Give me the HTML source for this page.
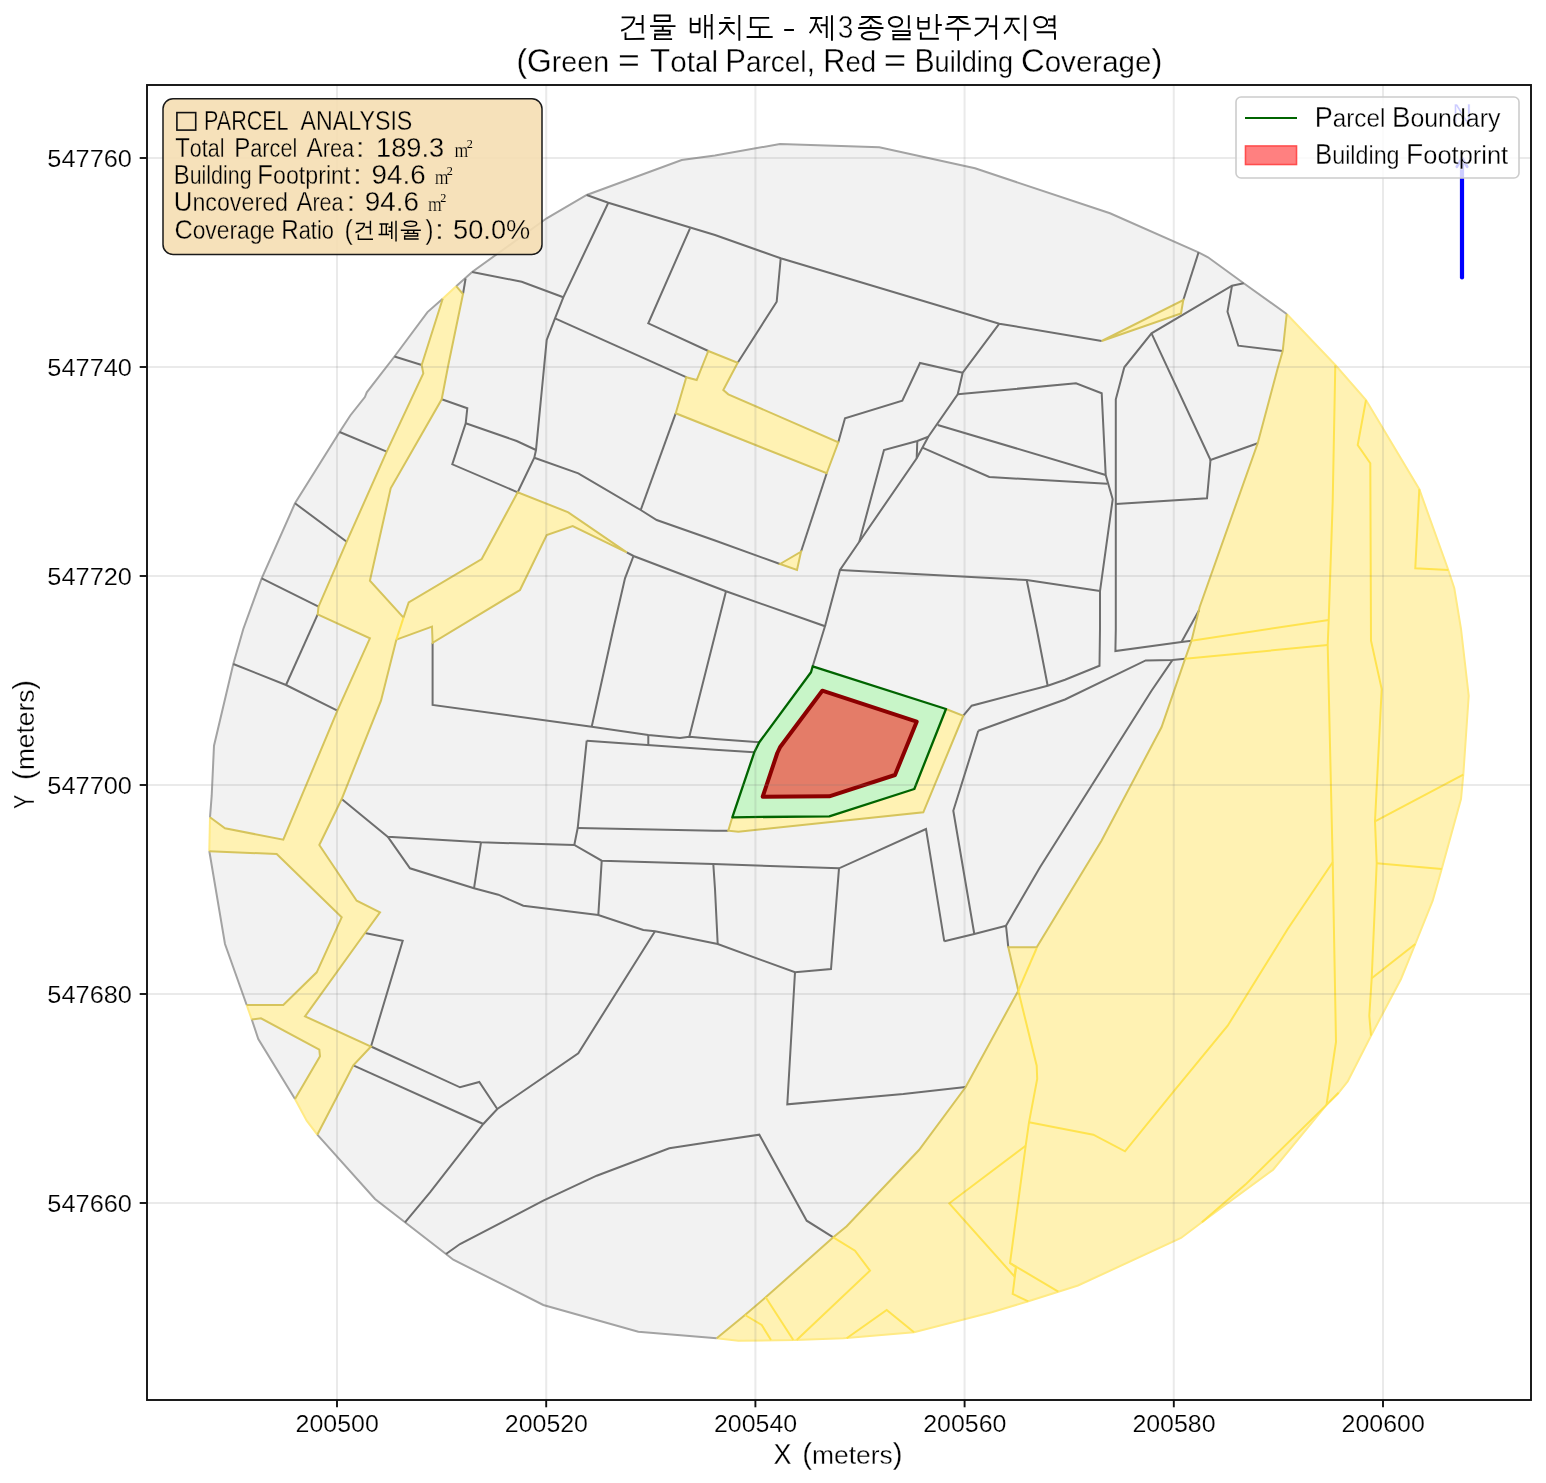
<!DOCTYPE html>
<html><head><meta charset="utf-8"><title>Building layout</title>
<style>html,body{margin:0;padding:0;background:#fff;}svg{display:block;will-change:transform;}</style>
</head><body>
<svg width="1546" height="1483" viewBox="0 0 1546 1483">
<desc>건물 배치도 - 제3종일반주거지역 (Green = Total Parcel, Red = Building Coverage); Coverage Ratio (건폐율): 50.0%</desc>
<rect x="0" y="0" width="1546" height="1483" fill="#fff"/>
<clipPath id="axclip"><rect x="147.0" y="85.0" width="1384.0" height="1315.0"/></clipPath>
<g clip-path="url(#axclip)">
<polygon points="586.7,195.0 681.7,160.0 715.0,155.5 780.0,144.0 879.3,147.3 975.0,168.3 1110.0,213.3 1198.5,252.3 1208.0,257.3 1243.7,283.3 1286.7,314.0 1335.3,365.0 1366.0,400.0 1419.3,489.3 1448.3,570.0 1454.3,588.3 1461.0,629.0 1468.7,695.7 1463.3,774.7 1461.0,799.0 1441.7,869.0 1432.7,900.7 1415.3,944.0 1401.0,979.0 1371.0,1035.7 1347.7,1081.5 1338.6,1092.8 1326.5,1104.9 1273.1,1169.7 1226.8,1203.8 1201.9,1222.3 1181.0,1238.0 1078.0,1285.5 1058.3,1291.7 1028.3,1301.3 991.7,1312.3 914.0,1332.3 843.3,1338.3 795.0,1340.0 738.3,1340.7 716.7,1338.3 638.3,1331.7 543.3,1305.0 453.3,1259.7 446.0,1254.0 405.0,1222.3 375.0,1199.0 317.3,1134.7 306.7,1120.7 295.0,1099.0 258.3,1039.0 251.7,1019.3 246.7,1005.0 225.0,944.0 209.3,851.0 210.0,817.3 211.7,795.7 214.0,745.7 233.3,664.0 243.3,629.0 261.7,578.3 295.0,503.3 339.6,432.0 350.3,415.5 364.9,397.1 366.8,392.3 394.5,356.5 427.5,312.1 456.2,286.2 472.1,272.0 546.7,218.3" fill="#f2f2f2" stroke="none" stroke-width="0" stroke-linejoin="miter" />
<polygon points="716.7,1338.3 745.0,1315.0 765.7,1297.3 833.3,1237.3 846.7,1226.3 919.0,1150.0 965.7,1087.0 1018.3,990.7 1008.3,947.3 1036.7,947.3 1101.5,840.7 1161.5,727.3 1185.1,658.8 1191.5,640.7 1199.6,607.2 1257.7,443.3 1277.7,368.3 1282.7,351.0 1286.7,314.0 1335.3,365.0 1366.0,400.0 1419.3,489.3 1448.3,570.0 1454.3,588.3 1461.0,629.0 1468.7,695.7 1463.3,774.7 1461.0,799.0 1441.7,869.0 1432.7,900.7 1415.3,944.0 1401.0,979.0 1371.0,1035.7 1347.7,1081.5 1338.6,1092.8 1326.5,1104.9 1273.1,1169.7 1226.8,1203.8 1201.9,1222.3 1181.0,1238.0 1078.0,1285.5 1058.3,1291.7 1028.3,1301.3 991.7,1312.3 914.0,1332.3 843.3,1338.3 795.0,1340.0 738.3,1340.7" fill="#fff2b3" stroke="none" stroke-width="0" stroke-linejoin="miter" />
<polygon points="456.2,286.2 463.0,294.0 448.3,365.0 441.7,399.3 390.7,488.3 369.9,580.7 403.5,617.6 396.4,639.6 381.0,700.7 341.7,799.0 319.3,845.0 356.7,900.7 380.0,912.3 365.0,933.0 305.0,1016.3 371.0,1046.5 353.3,1065.3 317.3,1134.7 306.7,1120.7 295.0,1099.0 320.0,1056.3 319.3,1049.7 261.0,1018.3 251.7,1019.5 246.7,1005.0 283.3,1005.0 316.7,972.3 341.7,917.3 276.7,854.0 209.3,851.3 210.0,817.3 225.0,828.3 283.3,839.7 337.4,710.7 369.9,638.3 317.7,614.3 318.5,606.7 346.7,541.7 386.7,451.7 423.3,373.3 421.7,365.0 442.7,298.8" fill="#fff2b3" stroke="none" stroke-width="0" stroke-linejoin="miter" />
<polygon points="403.5,617.6 408.7,602.4 481.7,559.0 517.7,492.3 568.3,512.3 626.7,552.3 572.7,526.0 546.7,535.0 520.0,590.0 432.6,642.8 432.0,626.6 396.4,639.6" fill="#fff2b3" stroke="none" stroke-width="0" stroke-linejoin="miter" />
<polygon points="708.3,351.0 737.7,362.7 723.3,390.0 728.3,394.3 838.3,442.3 826.7,473.3 675.7,413.3 686.3,377.2 696.7,380.0" fill="#fff2b3" stroke="none" stroke-width="0" stroke-linejoin="miter" />
<polygon points="780.0,564.0 801.0,551.7 797.0,570.0" fill="#fff2b3" stroke="none" stroke-width="0" stroke-linejoin="miter" />
<polygon points="1101.7,341.0 1183.3,300.0 1181.0,313.5" fill="#fff2b3" stroke="none" stroke-width="0" stroke-linejoin="miter" />
<polygon points="946.0,709.0 963.3,715.7 923.3,812.3 738.3,831.7 728.3,830.7 732.3,817.3 829.3,816.3 914.3,789.0" fill="#fff2b3" stroke="none" stroke-width="0" stroke-linejoin="miter" />
<polyline points="1286.7,314.0 1335.3,365.0 1366.0,400.0 1419.3,489.3 1448.3,570.0 1454.3,588.3 1461.0,629.0 1468.7,695.7 1463.3,774.7 1461.0,799.0 1441.7,869.0 1432.7,900.7 1415.3,944.0 1401.0,979.0 1371.0,1035.7 1347.7,1081.5 1338.6,1092.8 1326.5,1104.9 1273.1,1169.7 1226.8,1203.8 1201.9,1222.3 1181.0,1238.0 1078.0,1285.5 1058.3,1291.7 1028.3,1301.3 991.7,1312.3 914.0,1332.3 843.3,1338.3 795.0,1340.0 738.3,1340.7 716.7,1338.3" fill="none" stroke="#ffea85" stroke-width="2.0" stroke-linejoin="miter" stroke-linecap="butt" />
<polyline points="716.7,1338.3 638.3,1331.7 543.3,1305.0 453.3,1259.7 446.0,1254.0 405.0,1222.3 375.0,1199.0 317.3,1134.7" fill="none" stroke="#a3a3a3" stroke-width="2.0" stroke-linejoin="miter" stroke-linecap="butt" />
<polyline points="317.3,1134.7 306.7,1120.7 295.0,1099.0" fill="none" stroke="#ffea85" stroke-width="2.0" stroke-linejoin="miter" stroke-linecap="butt" />
<polyline points="295.0,1099.0 258.3,1039.0 251.7,1019.3" fill="none" stroke="#a3a3a3" stroke-width="2.0" stroke-linejoin="miter" stroke-linecap="butt" />
<polyline points="251.7,1019.3 246.7,1005.0" fill="none" stroke="#ffea85" stroke-width="2.0" stroke-linejoin="miter" stroke-linecap="butt" />
<polyline points="246.7,1005.0 225.0,944.0 209.3,851.0" fill="none" stroke="#a3a3a3" stroke-width="2.0" stroke-linejoin="miter" stroke-linecap="butt" />
<polyline points="209.3,851.0 210.0,817.3" fill="none" stroke="#ffea85" stroke-width="2.0" stroke-linejoin="miter" stroke-linecap="butt" />
<polyline points="210.0,817.3 211.7,795.7 214.0,745.7 233.3,664.0 243.3,629.0 261.7,578.3 295.0,503.3 339.6,432.0 350.3,415.5 364.9,397.1 366.8,392.3 394.5,356.5 427.5,312.1 442.7,298.8" fill="none" stroke="#a3a3a3" stroke-width="2.0" stroke-linejoin="miter" stroke-linecap="butt" />
<polyline points="442.7,298.8 456.2,286.2" fill="none" stroke="#ffea85" stroke-width="2.0" stroke-linejoin="miter" stroke-linecap="butt" />
<polyline points="456.2,286.2 472.1,272.0 546.7,218.3 586.7,195.0 681.7,160.0 715.0,155.5 780.0,144.0 879.3,147.3 975.0,168.3 1110.0,213.3 1198.5,252.3 1208.0,257.3 1243.7,283.3 1286.7,314.0" fill="none" stroke="#a3a3a3" stroke-width="2.0" stroke-linejoin="miter" stroke-linecap="butt" />
<polyline points="586.7,195.0 608.3,202.7 715.0,235.0 780.7,258.3 999.3,323.7 1101.7,341.0" fill="none" stroke="#6e6e6e" stroke-width="2.0" stroke-linejoin="miter" stroke-linecap="butt" />
<polyline points="608.3,202.7 563.3,297.3 555.0,318.3 546.7,340.0 543.3,375.0 536.0,450.0 534.3,457.7 517.7,492.3" fill="none" stroke="#6e6e6e" stroke-width="2.0" stroke-linejoin="miter" stroke-linecap="butt" />
<polyline points="472.1,272.0 521.7,281.7 563.3,297.3" fill="none" stroke="#6e6e6e" stroke-width="2.0" stroke-linejoin="miter" stroke-linecap="butt" />
<polyline points="690.0,228.3 648.3,323.3 708.3,351.0" fill="none" stroke="#6e6e6e" stroke-width="2.0" stroke-linejoin="miter" stroke-linecap="butt" />
<polyline points="555.0,318.3 686.7,377.3" fill="none" stroke="#6e6e6e" stroke-width="2.0" stroke-linejoin="miter" stroke-linecap="butt" />
<polyline points="675.7,413.3 640.7,510.0" fill="none" stroke="#6e6e6e" stroke-width="2.0" stroke-linejoin="miter" stroke-linecap="butt" />
<polyline points="534.3,457.7 578.3,473.3 640.7,510.0 656.7,520.0 715.0,540.5 780.0,564.0" fill="none" stroke="#6e6e6e" stroke-width="2.0" stroke-linejoin="miter" stroke-linecap="butt" />
<polyline points="465.6,278.5 463.0,294.0" fill="none" stroke="#6e6e6e" stroke-width="2.0" stroke-linejoin="miter" stroke-linecap="butt" />
<polyline points="441.7,399.3 467.3,408.3 465.7,423.3 452.3,464.3 517.7,492.3" fill="none" stroke="#6e6e6e" stroke-width="2.0" stroke-linejoin="miter" stroke-linecap="butt" />
<polyline points="465.7,423.3 516.7,441.0 536.0,450.0" fill="none" stroke="#6e6e6e" stroke-width="2.0" stroke-linejoin="miter" stroke-linecap="butt" />
<polyline points="394.5,356.5 421.7,365.0" fill="none" stroke="#6e6e6e" stroke-width="2.0" stroke-linejoin="miter" stroke-linecap="butt" />
<polyline points="339.6,432.0 386.7,451.7" fill="none" stroke="#6e6e6e" stroke-width="2.0" stroke-linejoin="miter" stroke-linecap="butt" />
<polyline points="295.0,503.3 346.7,541.7" fill="none" stroke="#6e6e6e" stroke-width="2.0" stroke-linejoin="miter" stroke-linecap="butt" />
<polyline points="261.7,578.3 318.5,606.7" fill="none" stroke="#6e6e6e" stroke-width="2.0" stroke-linejoin="miter" stroke-linecap="butt" />
<polyline points="317.7,614.3 286.0,685.0" fill="none" stroke="#6e6e6e" stroke-width="2.0" stroke-linejoin="miter" stroke-linecap="butt" />
<polyline points="233.3,664.0 286.0,685.0 337.4,710.7" fill="none" stroke="#6e6e6e" stroke-width="2.0" stroke-linejoin="miter" stroke-linecap="butt" />
<polyline points="626.7,552.3 633.5,556.0 726.0,591.3 825.0,626.2 812.7,666.3" fill="none" stroke="#6e6e6e" stroke-width="2.0" stroke-linejoin="miter" stroke-linecap="butt" />
<polyline points="633.5,556.0 625.0,578.3 613.3,629.0 591.7,726.7" fill="none" stroke="#6e6e6e" stroke-width="2.0" stroke-linejoin="miter" stroke-linecap="butt" />
<polyline points="726.0,591.3 716.5,629.0 689.3,736.7" fill="none" stroke="#6e6e6e" stroke-width="2.0" stroke-linejoin="miter" stroke-linecap="butt" />
<polyline points="432.6,642.8 432.6,705.0 591.7,726.7 648.3,735.0 680.0,738.0 689.3,736.7 715.0,739.0 759.3,742.3" fill="none" stroke="#6e6e6e" stroke-width="2.0" stroke-linejoin="miter" stroke-linecap="butt" />
<polyline points="648.3,735.0 648.3,745.7" fill="none" stroke="#6e6e6e" stroke-width="2.0" stroke-linejoin="miter" stroke-linecap="butt" />
<polyline points="586.7,740.7 715.0,749.7 754.3,752.3" fill="none" stroke="#6e6e6e" stroke-width="2.0" stroke-linejoin="miter" stroke-linecap="butt" />
<polyline points="586.7,740.7 577.7,828.0 574.3,845.0" fill="none" stroke="#6e6e6e" stroke-width="2.0" stroke-linejoin="miter" stroke-linecap="butt" />
<polyline points="577.7,828.0 715.0,830.7 728.3,830.7" fill="none" stroke="#6e6e6e" stroke-width="2.0" stroke-linejoin="miter" stroke-linecap="butt" />
<polyline points="341.7,799.0 387.7,836.7 481.0,842.3 574.3,845.0 601.7,860.7 713.3,864.0 839.0,868.3 926.0,829.0 944.3,941.3" fill="none" stroke="#6e6e6e" stroke-width="2.0" stroke-linejoin="miter" stroke-linecap="butt" />
<polyline points="713.3,864.0 715.0,889.0 717.7,944.0" fill="none" stroke="#6e6e6e" stroke-width="2.0" stroke-linejoin="miter" stroke-linecap="butt" />
<polyline points="387.7,836.7 410.0,868.3 474.0,888.3 498.3,894.7 523.3,905.7 598.3,915.0 643.3,930.0 655.0,931.3 717.7,944.0 795.0,972.3 831.0,969.0 839.0,868.3" fill="none" stroke="#6e6e6e" stroke-width="2.0" stroke-linejoin="miter" stroke-linecap="butt" />
<polyline points="481.0,842.3 474.0,888.3" fill="none" stroke="#6e6e6e" stroke-width="2.0" stroke-linejoin="miter" stroke-linecap="butt" />
<polyline points="601.7,860.7 598.3,915.0" fill="none" stroke="#6e6e6e" stroke-width="2.0" stroke-linejoin="miter" stroke-linecap="butt" />
<polyline points="365.0,933.0 402.7,940.7 371.0,1046.5" fill="none" stroke="#6e6e6e" stroke-width="2.0" stroke-linejoin="miter" stroke-linecap="butt" />
<polyline points="371.0,1046.5 460.0,1087.3 479.3,1082.0 497.3,1109.0" fill="none" stroke="#6e6e6e" stroke-width="2.0" stroke-linejoin="miter" stroke-linecap="butt" />
<polyline points="655.0,931.3 578.3,1053.2 497.3,1109.0 483.3,1124.0 430.0,1192.3 405.0,1222.3" fill="none" stroke="#6e6e6e" stroke-width="2.0" stroke-linejoin="miter" stroke-linecap="butt" />
<polyline points="353.3,1065.3 483.3,1124.0" fill="none" stroke="#6e6e6e" stroke-width="2.0" stroke-linejoin="miter" stroke-linecap="butt" />
<polyline points="446.0,1254.0 460.0,1244.0 543.3,1200.7 596.7,1175.7 669.3,1148.3 715.0,1141.3 759.3,1134.7 806.7,1220.7 833.3,1237.3" fill="none" stroke="#6e6e6e" stroke-width="2.0" stroke-linejoin="miter" stroke-linecap="butt" />
<polyline points="795.0,972.3 787.3,1104.3 903.3,1094.0 965.7,1087.0" fill="none" stroke="#6e6e6e" stroke-width="2.0" stroke-linejoin="miter" stroke-linecap="butt" />
<polyline points="944.3,941.3 974.3,934.0 1006.0,925.7 1008.3,947.3" fill="none" stroke="#6e6e6e" stroke-width="2.0" stroke-linejoin="miter" stroke-linecap="butt" />
<polyline points="978.3,730.7 953.3,810.7 974.3,934.0" fill="none" stroke="#6e6e6e" stroke-width="2.0" stroke-linejoin="miter" stroke-linecap="butt" />
<polyline points="978.3,730.7 1065.0,699.5 1145.7,660.4 1172.4,660.1 1185.1,658.8" fill="none" stroke="#6e6e6e" stroke-width="2.0" stroke-linejoin="miter" stroke-linecap="butt" />
<polyline points="1172.4,660.1 1151.5,690.7 1040.0,867.3 1006.0,925.7" fill="none" stroke="#6e6e6e" stroke-width="2.0" stroke-linejoin="miter" stroke-linecap="butt" />
<polyline points="963.3,715.7 971.7,705.7 1047.7,685.7 1065.0,679.7 1099.5,665.7 1100.0,629.0 1100.0,591.0 1112.7,499.3 1105.7,475.0 1101.7,393.3 1076.0,383.3 957.7,394.3" fill="none" stroke="#6e6e6e" stroke-width="2.0" stroke-linejoin="miter" stroke-linecap="butt" />
<polyline points="1026.7,580.0 1036.7,629.0 1047.7,685.7" fill="none" stroke="#6e6e6e" stroke-width="2.0" stroke-linejoin="miter" stroke-linecap="butt" />
<polyline points="1115.8,629.0 1115.4,651.1 1181.5,642.0 1191.5,640.7" fill="none" stroke="#6e6e6e" stroke-width="2.0" stroke-linejoin="miter" stroke-linecap="butt" />
<polyline points="1181.5,642.0 1199.2,609.9" fill="none" stroke="#6e6e6e" stroke-width="2.0" stroke-linejoin="miter" stroke-linecap="butt" />
<polyline points="1115.8,629.0 1115.8,504.0 1115.8,399.3 1124.3,367.3 1151.5,333.3 1232.0,285.7 1243.7,283.3" fill="none" stroke="#6e6e6e" stroke-width="2.0" stroke-linejoin="miter" stroke-linecap="butt" />
<polyline points="1151.5,333.3 1210.5,460.0 1257.7,443.3" fill="none" stroke="#6e6e6e" stroke-width="2.0" stroke-linejoin="miter" stroke-linecap="butt" />
<polyline points="1210.5,460.0 1207.0,498.3 1115.8,504.0" fill="none" stroke="#6e6e6e" stroke-width="2.0" stroke-linejoin="miter" stroke-linecap="butt" />
<polyline points="1232.0,285.7 1227.5,311.7 1238.3,345.7 1282.7,351.0" fill="none" stroke="#6e6e6e" stroke-width="2.0" stroke-linejoin="miter" stroke-linecap="butt" />
<polyline points="1198.6,252.3 1183.3,300.0" fill="none" stroke="#6e6e6e" stroke-width="2.0" stroke-linejoin="miter" stroke-linecap="butt" />
<polyline points="999.3,323.7 962.7,372.7 957.7,394.3 928.3,436.7 916.7,458.3 859.3,541.7 840.0,570.0 825.0,626.2" fill="none" stroke="#6e6e6e" stroke-width="2.0" stroke-linejoin="miter" stroke-linecap="butt" />
<polyline points="962.7,372.7 920.0,363.0 902.3,400.7 845.0,418.3 838.3,442.3" fill="none" stroke="#6e6e6e" stroke-width="2.0" stroke-linejoin="miter" stroke-linecap="butt" />
<polyline points="826.7,473.3 801.0,551.7" fill="none" stroke="#6e6e6e" stroke-width="2.0" stroke-linejoin="miter" stroke-linecap="butt" />
<polyline points="937.7,425.0 1105.7,475.0" fill="none" stroke="#6e6e6e" stroke-width="2.0" stroke-linejoin="miter" stroke-linecap="butt" />
<polyline points="922.4,447.7 989.3,477.0 1107.3,483.7" fill="none" stroke="#6e6e6e" stroke-width="2.0" stroke-linejoin="miter" stroke-linecap="butt" />
<polyline points="928.3,436.7 917.3,441.0 884.0,450.0 859.3,541.7" fill="none" stroke="#6e6e6e" stroke-width="2.0" stroke-linejoin="miter" stroke-linecap="butt" />
<polyline points="917.3,441.0 916.7,458.3" fill="none" stroke="#6e6e6e" stroke-width="2.0" stroke-linejoin="miter" stroke-linecap="butt" />
<polyline points="840.0,570.0 1026.7,580.0 1100.0,591.0" fill="none" stroke="#6e6e6e" stroke-width="2.0" stroke-linejoin="miter" stroke-linecap="butt" />
<polyline points="780.7,258.3 776.7,301.7 737.7,362.7" fill="none" stroke="#6e6e6e" stroke-width="2.0" stroke-linejoin="miter" stroke-linecap="butt" />
<polyline points="1286.7,314.0 1282.7,351.0 1277.7,368.3 1257.7,443.3 1199.6,607.2 1191.5,640.7 1185.1,658.8 1161.5,727.3 1101.5,840.7 1036.7,947.3 1008.3,947.3 1018.3,990.7 965.7,1087.0 919.0,1150.0 846.7,1226.3 833.3,1237.3 765.7,1297.3 745.0,1315.0 716.7,1338.3" fill="none" stroke="#d6c45c" stroke-width="2.0" stroke-linejoin="miter" stroke-linecap="butt" />
<polyline points="456.2,286.2 463.0,294.0 448.3,365.0 441.7,399.3 390.7,488.3 369.9,580.7 403.5,617.6" fill="none" stroke="#d6c45c" stroke-width="2.0" stroke-linejoin="miter" stroke-linecap="butt" />
<polyline points="396.4,639.6 381.0,700.7 341.7,799.0 319.3,845.0 356.7,900.7 380.0,912.3 365.0,933.0 305.0,1016.3 371.0,1046.5 353.3,1065.3 317.3,1134.7" fill="none" stroke="#d6c45c" stroke-width="2.0" stroke-linejoin="miter" stroke-linecap="butt" />
<polyline points="295.0,1099.0 320.0,1056.3 319.3,1049.7 261.0,1018.3 251.7,1019.5" fill="none" stroke="#d6c45c" stroke-width="2.0" stroke-linejoin="miter" stroke-linecap="butt" />
<polyline points="246.7,1005.0 283.3,1005.0 316.7,972.3 341.7,917.3 276.7,854.0 209.3,851.3" fill="none" stroke="#d6c45c" stroke-width="2.0" stroke-linejoin="miter" stroke-linecap="butt" />
<polyline points="210.0,817.3 225.0,828.3 283.3,839.7 337.4,710.7 369.9,638.3 317.7,614.3 318.5,606.7 346.7,541.7 386.7,451.7 423.3,373.3 421.7,365.0 442.7,298.8" fill="none" stroke="#d6c45c" stroke-width="2.0" stroke-linejoin="miter" stroke-linecap="butt" />
<polyline points="403.5,617.6 408.7,602.4 481.7,559.0 517.7,492.3 568.3,512.3 626.7,552.3 572.7,526.0 546.7,535.0 520.0,590.0 432.6,642.8 432.0,626.6 396.4,639.6" fill="none" stroke="#d6c45c" stroke-width="2.0" stroke-linejoin="miter" stroke-linecap="butt" />
<polygon points="708.3,351.0 737.7,362.7 723.3,390.0 728.3,394.3 838.3,442.3 826.7,473.3 675.7,413.3 686.3,377.2 696.7,380.0" fill="none" stroke="#d6c45c" stroke-width="2.0" stroke-linejoin="miter" />
<polygon points="780.0,564.0 801.0,551.7 797.0,570.0" fill="none" stroke="#d6c45c" stroke-width="2.0" stroke-linejoin="miter" />
<polygon points="1101.7,341.0 1183.3,300.0 1181.0,313.5" fill="none" stroke="#d6c45c" stroke-width="2.0" stroke-linejoin="miter" />
<polyline points="946.0,709.0 963.3,715.7 923.3,812.3 738.3,831.7 728.3,830.7 732.3,817.3" fill="none" stroke="#d6c45c" stroke-width="2.0" stroke-linejoin="miter" stroke-linecap="butt" />
<polyline points="1335.3,365.0 1332.7,501.7 1328.7,620.0 1327.7,645.0 1332.7,862.3 1336.0,1042.0 1326.5,1104.9" fill="none" stroke="#ffe34f" stroke-width="2.0" stroke-linejoin="miter" stroke-linecap="butt" />
<polyline points="1191.5,640.7 1328.7,620.0" fill="none" stroke="#ffe34f" stroke-width="2.0" stroke-linejoin="miter" stroke-linecap="butt" />
<polyline points="1185.1,658.8 1327.7,645.0" fill="none" stroke="#ffe34f" stroke-width="2.0" stroke-linejoin="miter" stroke-linecap="butt" />
<polyline points="1366.0,400.0 1357.7,445.0 1370.3,463.3 1371.0,640.7 1381.7,689.0 1375.0,821.3 1376.7,863.3 1371.7,978.3 1369.3,1015.7 1371.0,1035.7" fill="none" stroke="#ffe34f" stroke-width="2.0" stroke-linejoin="miter" stroke-linecap="butt" />
<polyline points="1419.3,489.3 1415.3,568.3 1448.3,570.0" fill="none" stroke="#ffe34f" stroke-width="2.0" stroke-linejoin="miter" stroke-linecap="butt" />
<polyline points="1375.0,821.3 1463.3,774.7" fill="none" stroke="#ffe34f" stroke-width="2.0" stroke-linejoin="miter" stroke-linecap="butt" />
<polyline points="1376.7,863.3 1441.7,869.0" fill="none" stroke="#ffe34f" stroke-width="2.0" stroke-linejoin="miter" stroke-linecap="butt" />
<polyline points="1371.7,978.3 1415.3,944.0" fill="none" stroke="#ffe34f" stroke-width="2.0" stroke-linejoin="miter" stroke-linecap="butt" />
<polyline points="1332.7,862.3 1287.7,929.0 1227.7,1025.7 1174.3,1090.7 1125.0,1151.3 1093.3,1134.7 1029.0,1122.3" fill="none" stroke="#ffe34f" stroke-width="2.0" stroke-linejoin="miter" stroke-linecap="butt" />
<polyline points="1018.3,990.7 1036.7,1065.7 1037.2,1079.0 1029.0,1122.3 1025.7,1145.7 1010.0,1263.0 1016.0,1267.3 1012.7,1294.0 1028.3,1301.3" fill="none" stroke="#ffe34f" stroke-width="2.0" stroke-linejoin="miter" stroke-linecap="butt" />
<polyline points="1036.7,948.0 1018.3,990.7" fill="none" stroke="#ffe34f" stroke-width="2.0" stroke-linejoin="miter" stroke-linecap="butt" />
<polyline points="1025.7,1145.7 949.3,1203.3 1014.3,1276.3 1016.0,1267.3" fill="none" stroke="#ffe34f" stroke-width="2.0" stroke-linejoin="miter" stroke-linecap="butt" />
<polyline points="1010.0,1263.0 1058.3,1291.7" fill="none" stroke="#ffe34f" stroke-width="2.0" stroke-linejoin="miter" stroke-linecap="butt" />
<polyline points="833.3,1237.3 855.0,1250.7 870.0,1270.7 796.7,1340.0" fill="none" stroke="#ffe34f" stroke-width="2.0" stroke-linejoin="miter" stroke-linecap="butt" />
<polyline points="765.7,1297.3 793.3,1340.0" fill="none" stroke="#ffe34f" stroke-width="2.0" stroke-linejoin="miter" stroke-linecap="butt" />
<polyline points="745.0,1315.0 761.7,1325.0 771.0,1340.0" fill="none" stroke="#ffe34f" stroke-width="2.0" stroke-linejoin="miter" stroke-linecap="butt" />
<polyline points="846.7,1338.3 886.7,1310.0 914.0,1332.3" fill="none" stroke="#ffe34f" stroke-width="2.0" stroke-linejoin="miter" stroke-linecap="butt" />
<polyline points="1338.6,1092.8 1326.5,1104.9 1245.4,1184.6 1201.9,1222.3" fill="none" stroke="#ffe34f" stroke-width="2.0" stroke-linejoin="miter" stroke-linecap="butt" />
<polyline points="403.5,617.6 396.4,639.6" fill="none" stroke="#ffe34f" stroke-width="2.0" stroke-linejoin="miter" stroke-linecap="butt" />
<polygon points="812.7,666.3 946.0,709.0 914.3,789.0 829.3,816.3 732.3,817.3 754.3,752.3 759.3,742.3 811.0,672.3" fill="#c8f5c8" stroke="#006400" stroke-width="2.3" stroke-linejoin="miter" style="stroke-linejoin:round"/>
<polygon points="822.3,690.7 916.7,721.7 895.0,775.0 829.3,796.3 762.7,796.7 777.3,753.0 780.0,747.3" fill="#e47c68" stroke="#8b0000" stroke-width="4.0" stroke-linejoin="miter" style="stroke-linejoin:round"/>
<line x1="337.0" y1="85.0" x2="337.0" y2="1400.0" stroke="rgba(120,120,120,0.155)" stroke-width="2"/>
<line x1="546.2" y1="85.0" x2="546.2" y2="1400.0" stroke="rgba(120,120,120,0.155)" stroke-width="2"/>
<line x1="755.4" y1="85.0" x2="755.4" y2="1400.0" stroke="rgba(120,120,120,0.155)" stroke-width="2"/>
<line x1="964.6" y1="85.0" x2="964.6" y2="1400.0" stroke="rgba(120,120,120,0.155)" stroke-width="2"/>
<line x1="1173.8" y1="85.0" x2="1173.8" y2="1400.0" stroke="rgba(120,120,120,0.155)" stroke-width="2"/>
<line x1="1383.0" y1="85.0" x2="1383.0" y2="1400.0" stroke="rgba(120,120,120,0.155)" stroke-width="2"/>
<line x1="147.0" y1="158.0" x2="1531.0" y2="158.0" stroke="rgba(120,120,120,0.155)" stroke-width="2"/>
<line x1="147.0" y1="367.0" x2="1531.0" y2="367.0" stroke="rgba(120,120,120,0.155)" stroke-width="2"/>
<line x1="147.0" y1="576.0" x2="1531.0" y2="576.0" stroke="rgba(120,120,120,0.155)" stroke-width="2"/>
<line x1="147.0" y1="785.0" x2="1531.0" y2="785.0" stroke="rgba(120,120,120,0.155)" stroke-width="2"/>
<line x1="147.0" y1="994.0" x2="1531.0" y2="994.0" stroke="rgba(120,120,120,0.155)" stroke-width="2"/>
<line x1="147.0" y1="1203.0" x2="1531.0" y2="1203.0" stroke="rgba(120,120,120,0.155)" stroke-width="2"/>
<line x1="1462" y1="160" x2="1462" y2="277.5" stroke="#0000ff" stroke-width="4.2" stroke-linecap="round"/>
<polyline points="1456.8,166.8 1462,158 1467.2,166.8" fill="none" stroke="#0000ff" stroke-width="2.8" stroke-linecap="round" stroke-linejoin="round"/>
<text x="1451.9" y="124.0" font-family="Liberation Sans, sans-serif" font-size="29.3px" text-anchor="start" fill="#0000ff" textLength="20.4" lengthAdjust="spacingAndGlyphs"  stroke="#ffffff" stroke-width="0.5">N</text>
<rect x="1236" y="97" width="283" height="81" rx="5" ry="5" fill="rgba(255,255,255,0.8)" stroke="#cccccc" stroke-width="1.6"/>
<line x1="1245" y1="118" x2="1297" y2="118" stroke="#006400" stroke-width="2"/>
<rect x="1245.5" y="146" width="51" height="18.5" fill="#ff8080" stroke="#ff4d4d" stroke-width="1.6"/>
<text x="1314.8" y="127.0" font-family="Liberation Sans, sans-serif" font-size="29.3px" text-anchor="start" fill="#000" textLength="18.0" lengthAdjust="spacingAndGlyphs"  stroke="#ffffff" stroke-width="0.3">P</text><text x="1332.8" y="127.0" font-family="Liberation Sans, sans-serif" font-size="26.37px" text-anchor="start" fill="#000" textLength="52.5" lengthAdjust="spacingAndGlyphs"  stroke="#ffffff" stroke-width="0.3">arcel</text>
<text x="1391.9" y="127.0" font-family="Liberation Sans, sans-serif" font-size="29.3px" text-anchor="start" fill="#000" textLength="18.5" lengthAdjust="spacingAndGlyphs"  stroke="#ffffff" stroke-width="0.3">B</text><text x="1410.4" y="127.0" font-family="Liberation Sans, sans-serif" font-size="26.37px" text-anchor="start" fill="#000" textLength="90.1" lengthAdjust="spacingAndGlyphs"  stroke="#ffffff" stroke-width="0.3">oundary</text>
<text x="1314.9" y="164.0" font-family="Liberation Sans, sans-serif" font-size="29.3px" text-anchor="start" fill="#000" textLength="17.3" lengthAdjust="spacingAndGlyphs"  stroke="#ffffff" stroke-width="0.3">B</text><text x="1332.2" y="164.0" font-family="Liberation Sans, sans-serif" font-size="26.37px" text-anchor="start" fill="#000" textLength="67.4" lengthAdjust="spacingAndGlyphs"  stroke="#ffffff" stroke-width="0.3">uilding</text>
<text x="1406.0" y="164.0" font-family="Liberation Sans, sans-serif" font-size="29.3px" text-anchor="start" fill="#000" textLength="17.2" lengthAdjust="spacingAndGlyphs"  stroke="#ffffff" stroke-width="0.3">F</text><text x="1423.3" y="164.0" font-family="Liberation Sans, sans-serif" font-size="26.37px" text-anchor="start" fill="#000" textLength="84.8" lengthAdjust="spacingAndGlyphs"  stroke="#ffffff" stroke-width="0.3">ootprint</text>
<rect x="163" y="98.8" width="379" height="155.6" rx="10" ry="10" fill="rgba(245,222,179,0.9)" stroke="#1a1a1a" stroke-width="1.5"/>
<rect x="176.9" y="112.6" width="18.8" height="17.5" fill="none" stroke="#111" stroke-width="1.6"/>
<text x="204.0" y="130.0" font-family="Liberation Sans, sans-serif" font-size="27.7px" text-anchor="start" fill="#000" textLength="84.6" lengthAdjust="spacingAndGlyphs"  stroke="#f6e1bb" stroke-width="0.3">PARCEL</text>
<text x="300.6" y="130.0" font-family="Liberation Sans, sans-serif" font-size="27.7px" text-anchor="start" fill="#000" textLength="111.7" lengthAdjust="spacingAndGlyphs"  stroke="#f6e1bb" stroke-width="0.3">ANALYSIS</text>
<text x="175.2" y="157.0" font-family="Liberation Sans, sans-serif" font-size="27.7px" text-anchor="start" fill="#000" textLength="14.6" lengthAdjust="spacingAndGlyphs"  stroke="#f6e1bb" stroke-width="0.3">T</text><text x="189.8" y="157.0" font-family="Liberation Sans, sans-serif" font-size="24.93px" text-anchor="start" fill="#000" textLength="34.6" lengthAdjust="spacingAndGlyphs"  stroke="#f6e1bb" stroke-width="0.3">otal</text>
<text x="234.3" y="157.0" font-family="Liberation Sans, sans-serif" font-size="27.7px" text-anchor="start" fill="#000" textLength="16.1" lengthAdjust="spacingAndGlyphs"  stroke="#f6e1bb" stroke-width="0.3">P</text><text x="250.3" y="157.0" font-family="Liberation Sans, sans-serif" font-size="24.93px" text-anchor="start" fill="#000" textLength="47.0" lengthAdjust="spacingAndGlyphs"  stroke="#f6e1bb" stroke-width="0.3">arcel</text>
<text x="306.5" y="157.0" font-family="Liberation Sans, sans-serif" font-size="27.7px" text-anchor="start" fill="#000" textLength="16.2" lengthAdjust="spacingAndGlyphs"  stroke="#f6e1bb" stroke-width="0.3">A</text><text x="322.7" y="157.0" font-family="Liberation Sans, sans-serif" font-size="24.93px" text-anchor="start" fill="#000" textLength="31.5" lengthAdjust="spacingAndGlyphs"  stroke="#f6e1bb" stroke-width="0.3">rea</text>
<text x="355.7" y="157.0" font-family="Liberation Sans, sans-serif" font-size="27.7px" text-anchor="start" fill="#000" textLength="8.9" lengthAdjust="spacingAndGlyphs"  stroke="#f6e1bb" stroke-width="0.3">:</text>
<text x="376.1" y="157.0" font-family="Liberation Sans, sans-serif" font-size="27.7px" text-anchor="start" fill="#000" textLength="68.1" lengthAdjust="spacingAndGlyphs"  stroke="#f6e1bb" stroke-width="0.3">189.3</text>
<text x="173.8" y="184.0" font-family="Liberation Sans, sans-serif" font-size="27.7px" text-anchor="start" fill="#000" textLength="15.9" lengthAdjust="spacingAndGlyphs"  stroke="#f6e1bb" stroke-width="0.3">B</text><text x="189.7" y="184.0" font-family="Liberation Sans, sans-serif" font-size="24.93px" text-anchor="start" fill="#000" textLength="61.9" lengthAdjust="spacingAndGlyphs"  stroke="#f6e1bb" stroke-width="0.3">uilding</text>
<text x="257.2" y="184.0" font-family="Liberation Sans, sans-serif" font-size="27.7px" text-anchor="start" fill="#000" textLength="15.7" lengthAdjust="spacingAndGlyphs"  stroke="#f6e1bb" stroke-width="0.3">F</text><text x="273.0" y="184.0" font-family="Liberation Sans, sans-serif" font-size="24.93px" text-anchor="start" fill="#000" textLength="77.4" lengthAdjust="spacingAndGlyphs"  stroke="#f6e1bb" stroke-width="0.3">ootprint</text>
<text x="353.0" y="184.0" font-family="Liberation Sans, sans-serif" font-size="27.7px" text-anchor="start" fill="#000" textLength="8.9" lengthAdjust="spacingAndGlyphs"  stroke="#f6e1bb" stroke-width="0.3">:</text>
<text x="371.5" y="184.0" font-family="Liberation Sans, sans-serif" font-size="27.7px" text-anchor="start" fill="#000" textLength="54.1" lengthAdjust="spacingAndGlyphs"  stroke="#f6e1bb" stroke-width="0.3">94.6</text>
<text x="173.8" y="211.0" font-family="Liberation Sans, sans-serif" font-size="27.7px" text-anchor="start" fill="#000" textLength="18.6" lengthAdjust="spacingAndGlyphs"  stroke="#f6e1bb" stroke-width="0.3">U</text><text x="192.4" y="211.0" font-family="Liberation Sans, sans-serif" font-size="24.93px" text-anchor="start" fill="#000" textLength="95.6" lengthAdjust="spacingAndGlyphs"  stroke="#f6e1bb" stroke-width="0.3">ncovered</text>
<text x="296.4" y="211.0" font-family="Liberation Sans, sans-serif" font-size="27.7px" text-anchor="start" fill="#000" textLength="16.0" lengthAdjust="spacingAndGlyphs"  stroke="#f6e1bb" stroke-width="0.3">A</text><text x="312.4" y="211.0" font-family="Liberation Sans, sans-serif" font-size="24.93px" text-anchor="start" fill="#000" textLength="31.2" lengthAdjust="spacingAndGlyphs"  stroke="#f6e1bb" stroke-width="0.3">rea</text>
<text x="346.4" y="211.0" font-family="Liberation Sans, sans-serif" font-size="27.7px" text-anchor="start" fill="#000" textLength="8.9" lengthAdjust="spacingAndGlyphs"  stroke="#f6e1bb" stroke-width="0.3">:</text>
<text x="364.8" y="211.0" font-family="Liberation Sans, sans-serif" font-size="27.7px" text-anchor="start" fill="#000" textLength="54.2" lengthAdjust="spacingAndGlyphs"  stroke="#f6e1bb" stroke-width="0.3">94.6</text>
<text x="174.4" y="239.0" font-family="Liberation Sans, sans-serif" font-size="27.7px" text-anchor="start" fill="#000" textLength="18.3" lengthAdjust="spacingAndGlyphs"  stroke="#f6e1bb" stroke-width="0.3">C</text><text x="192.7" y="239.0" font-family="Liberation Sans, sans-serif" font-size="24.93px" text-anchor="start" fill="#000" textLength="82.3" lengthAdjust="spacingAndGlyphs"  stroke="#f6e1bb" stroke-width="0.3">overage</text>
<text x="281.2" y="239.0" font-family="Liberation Sans, sans-serif" font-size="27.7px" text-anchor="start" fill="#000" textLength="17.5" lengthAdjust="spacingAndGlyphs"  stroke="#f6e1bb" stroke-width="0.3">R</text><text x="298.7" y="239.0" font-family="Liberation Sans, sans-serif" font-size="24.93px" text-anchor="start" fill="#000" textLength="35.2" lengthAdjust="spacingAndGlyphs"  stroke="#f6e1bb" stroke-width="0.3">atio</text>
<text x="344.5" y="239.0" font-family="Liberation Sans, sans-serif" font-size="27.7px" text-anchor="start" fill="#000" textLength="8.3" lengthAdjust="spacingAndGlyphs"  stroke="#f6e1bb" stroke-width="0.3">(</text>
<text x="425.5" y="239.0" font-family="Liberation Sans, sans-serif" font-size="27.7px" text-anchor="start" fill="#000" textLength="8.0" lengthAdjust="spacingAndGlyphs"  stroke="#f6e1bb" stroke-width="0.3">)</text>
<text x="434.9" y="239.0" font-family="Liberation Sans, sans-serif" font-size="27.7px" text-anchor="start" fill="#000" textLength="8.9" lengthAdjust="spacingAndGlyphs"  stroke="#f6e1bb" stroke-width="0.3">:</text>
<text x="453.1" y="239.0" font-family="Liberation Sans, sans-serif" font-size="27.7px" text-anchor="start" fill="#000" textLength="77.2" lengthAdjust="spacingAndGlyphs"  stroke="#f6e1bb" stroke-width="0.3">50.0%</text>
<text x="454.6" y="157.0" font-family="Liberation Serif, sans-serif" font-size="22.0px" text-anchor="start" fill="#000" textLength="13.8" lengthAdjust="spacingAndGlyphs"  stroke="#f6e1bb" stroke-width="0.25">m</text>
<text x="466.7" y="147.8" font-family="Liberation Serif, sans-serif" font-size="11.5px" text-anchor="start" fill="#000" textLength="6.1" lengthAdjust="spacingAndGlyphs" >2</text>
<text x="434.7" y="184.0" font-family="Liberation Serif, sans-serif" font-size="22.0px" text-anchor="start" fill="#000" textLength="13.8" lengthAdjust="spacingAndGlyphs"  stroke="#f6e1bb" stroke-width="0.25">m</text>
<text x="446.8" y="174.8" font-family="Liberation Serif, sans-serif" font-size="11.5px" text-anchor="start" fill="#000" textLength="6.1" lengthAdjust="spacingAndGlyphs" >2</text>
<text x="428.1" y="211.0" font-family="Liberation Serif, sans-serif" font-size="22.0px" text-anchor="start" fill="#000" textLength="13.8" lengthAdjust="spacingAndGlyphs"  stroke="#f6e1bb" stroke-width="0.25">m</text>
<text x="440.2" y="201.8" font-family="Liberation Serif, sans-serif" font-size="11.5px" text-anchor="start" fill="#000" textLength="6.1" lengthAdjust="spacingAndGlyphs" >2</text>
</g>
<rect x="147.0" y="85.0" width="1384.0" height="1315.0" fill="none" stroke="#111" stroke-width="1.9"/>
<line x1="337.0" y1="1400.0" x2="337.0" y2="1407.3" stroke="#111" stroke-width="1.9"/>
<text x="295.6" y="1432.0" font-family="Liberation Sans, sans-serif" font-size="24.5px" text-anchor="start" fill="#000" textLength="83.2" lengthAdjust="spacingAndGlyphs"  stroke="#ffffff" stroke-width="0.2">200500</text>
<line x1="546.2" y1="1400.0" x2="546.2" y2="1407.3" stroke="#111" stroke-width="1.9"/>
<text x="504.8" y="1432.0" font-family="Liberation Sans, sans-serif" font-size="24.5px" text-anchor="start" fill="#000" textLength="83.2" lengthAdjust="spacingAndGlyphs"  stroke="#ffffff" stroke-width="0.2">200520</text>
<line x1="755.4" y1="1400.0" x2="755.4" y2="1407.3" stroke="#111" stroke-width="1.9"/>
<text x="714.0" y="1432.0" font-family="Liberation Sans, sans-serif" font-size="24.5px" text-anchor="start" fill="#000" textLength="83.2" lengthAdjust="spacingAndGlyphs"  stroke="#ffffff" stroke-width="0.2">200540</text>
<line x1="964.6" y1="1400.0" x2="964.6" y2="1407.3" stroke="#111" stroke-width="1.9"/>
<text x="923.2" y="1432.0" font-family="Liberation Sans, sans-serif" font-size="24.5px" text-anchor="start" fill="#000" textLength="83.2" lengthAdjust="spacingAndGlyphs"  stroke="#ffffff" stroke-width="0.2">200560</text>
<line x1="1173.8" y1="1400.0" x2="1173.8" y2="1407.3" stroke="#111" stroke-width="1.9"/>
<text x="1132.4" y="1432.0" font-family="Liberation Sans, sans-serif" font-size="24.5px" text-anchor="start" fill="#000" textLength="83.2" lengthAdjust="spacingAndGlyphs"  stroke="#ffffff" stroke-width="0.2">200580</text>
<line x1="1383.0" y1="1400.0" x2="1383.0" y2="1407.3" stroke="#111" stroke-width="1.9"/>
<text x="1341.6" y="1432.0" font-family="Liberation Sans, sans-serif" font-size="24.5px" text-anchor="start" fill="#000" textLength="83.2" lengthAdjust="spacingAndGlyphs"  stroke="#ffffff" stroke-width="0.2">200600</text>
<line x1="139.7" y1="158.0" x2="147.0" y2="158.0" stroke="#111" stroke-width="1.9"/>
<text x="47.3" y="167.0" font-family="Liberation Sans, sans-serif" font-size="24.5px" text-anchor="start" fill="#000" textLength="84.7" lengthAdjust="spacingAndGlyphs"  stroke="#ffffff" stroke-width="0.2">547760</text>
<line x1="139.7" y1="367.0" x2="147.0" y2="367.0" stroke="#111" stroke-width="1.9"/>
<text x="47.3" y="376.0" font-family="Liberation Sans, sans-serif" font-size="24.5px" text-anchor="start" fill="#000" textLength="84.7" lengthAdjust="spacingAndGlyphs"  stroke="#ffffff" stroke-width="0.2">547740</text>
<line x1="139.7" y1="576.0" x2="147.0" y2="576.0" stroke="#111" stroke-width="1.9"/>
<text x="47.3" y="585.0" font-family="Liberation Sans, sans-serif" font-size="24.5px" text-anchor="start" fill="#000" textLength="84.7" lengthAdjust="spacingAndGlyphs"  stroke="#ffffff" stroke-width="0.2">547720</text>
<line x1="139.7" y1="785.0" x2="147.0" y2="785.0" stroke="#111" stroke-width="1.9"/>
<text x="47.3" y="794.0" font-family="Liberation Sans, sans-serif" font-size="24.5px" text-anchor="start" fill="#000" textLength="84.7" lengthAdjust="spacingAndGlyphs"  stroke="#ffffff" stroke-width="0.2">547700</text>
<line x1="139.7" y1="994.0" x2="147.0" y2="994.0" stroke="#111" stroke-width="1.9"/>
<text x="47.3" y="1003.0" font-family="Liberation Sans, sans-serif" font-size="24.5px" text-anchor="start" fill="#000" textLength="84.7" lengthAdjust="spacingAndGlyphs"  stroke="#ffffff" stroke-width="0.2">547680</text>
<line x1="139.7" y1="1203.0" x2="147.0" y2="1203.0" stroke="#111" stroke-width="1.9"/>
<text x="47.3" y="1212.0" font-family="Liberation Sans, sans-serif" font-size="24.5px" text-anchor="start" fill="#000" textLength="84.7" lengthAdjust="spacingAndGlyphs"  stroke="#ffffff" stroke-width="0.2">547660</text>
<text x="773.6" y="1464.0" font-family="Liberation Sans, sans-serif" font-size="29.5px" text-anchor="start" fill="#000" textLength="18.0" lengthAdjust="spacingAndGlyphs"  stroke="#ffffff" stroke-width="0.3">X</text>
<text x="802.2" y="1464.0" font-family="Liberation Sans, sans-serif" font-size="29.5px" text-anchor="start" fill="#000" textLength="9.8" lengthAdjust="spacingAndGlyphs"  stroke="#ffffff" stroke-width="0.3">(</text><text x="812.0" y="1464.0" font-family="Liberation Sans, sans-serif" font-size="26.55px" text-anchor="start" fill="#000" textLength="80.8" lengthAdjust="spacingAndGlyphs"  stroke="#ffffff" stroke-width="0.3">meters</text><text x="892.8" y="1464.0" font-family="Liberation Sans, sans-serif" font-size="29.5px" text-anchor="start" fill="#000" textLength="9.8" lengthAdjust="spacingAndGlyphs"  stroke="#ffffff" stroke-width="0.3">)</text>
<g transform="translate(34.05,808.6) rotate(-90)"><text x="-0.4" y="0.0" font-family="Liberation Sans, sans-serif" font-size="29.5px" text-anchor="start" fill="#000" textLength="14.4" lengthAdjust="spacingAndGlyphs"  stroke="#ffffff" stroke-width="0.3">Y</text><text x="28.7" y="0.0" font-family="Liberation Sans, sans-serif" font-size="29.5px" text-anchor="start" fill="#000" textLength="9.7" lengthAdjust="spacingAndGlyphs"  stroke="#ffffff" stroke-width="0.3">(</text><text x="38.5" y="0.0" font-family="Liberation Sans, sans-serif" font-size="26.55px" text-anchor="start" fill="#000" textLength="80.4" lengthAdjust="spacingAndGlyphs"  stroke="#ffffff" stroke-width="0.3">meters</text><text x="118.9" y="0.0" font-family="Liberation Sans, sans-serif" font-size="29.5px" text-anchor="start" fill="#000" textLength="9.7" lengthAdjust="spacingAndGlyphs"  stroke="#ffffff" stroke-width="0.3">)</text></g>
<text x="516.5" y="72.0" font-family="Liberation Sans, sans-serif" font-size="33.8px" text-anchor="start" fill="#000" textLength="35.3" lengthAdjust="spacingAndGlyphs"  stroke="#ffffff" stroke-width="0.3">(G</text><text x="551.8" y="72.0" font-family="Liberation Sans, sans-serif" font-size="30.42px" text-anchor="start" fill="#000" textLength="57.3" lengthAdjust="spacingAndGlyphs"  stroke="#ffffff" stroke-width="0.3">reen</text>
<text x="618.1" y="72.0" font-family="Liberation Sans, sans-serif" font-size="33.8px" text-anchor="start" fill="#000" textLength="21.9" lengthAdjust="spacingAndGlyphs"  stroke="#ffffff" stroke-width="0.3">=</text>
<text x="650.1" y="72.0" font-family="Liberation Sans, sans-serif" font-size="33.8px" text-anchor="start" fill="#000" textLength="20.1" lengthAdjust="spacingAndGlyphs"  stroke="#ffffff" stroke-width="0.3">T</text><text x="670.3" y="72.0" font-family="Liberation Sans, sans-serif" font-size="30.42px" text-anchor="start" fill="#000" textLength="47.8" lengthAdjust="spacingAndGlyphs"  stroke="#ffffff" stroke-width="0.3">otal</text>
<text x="725.2" y="72.0" font-family="Liberation Sans, sans-serif" font-size="33.8px" text-anchor="start" fill="#000" textLength="20.7" lengthAdjust="spacingAndGlyphs"  stroke="#ffffff" stroke-width="0.3">P</text><text x="745.9" y="72.0" font-family="Liberation Sans, sans-serif" font-size="30.42px" text-anchor="start" fill="#000" textLength="60.6" lengthAdjust="spacingAndGlyphs"  stroke="#ffffff" stroke-width="0.3">arcel</text><text x="806.5" y="72.0" font-family="Liberation Sans, sans-serif" font-size="33.8px" text-anchor="start" fill="#000" textLength="8.6" lengthAdjust="spacingAndGlyphs"  stroke="#ffffff" stroke-width="0.3">,</text>
<text x="823.3" y="72.0" font-family="Liberation Sans, sans-serif" font-size="33.8px" text-anchor="start" fill="#000" textLength="22.1" lengthAdjust="spacingAndGlyphs"  stroke="#ffffff" stroke-width="0.3">R</text><text x="845.4" y="72.0" font-family="Liberation Sans, sans-serif" font-size="30.42px" text-anchor="start" fill="#000" textLength="30.7" lengthAdjust="spacingAndGlyphs"  stroke="#ffffff" stroke-width="0.3">ed</text>
<text x="883.8" y="72.0" font-family="Liberation Sans, sans-serif" font-size="33.8px" text-anchor="start" fill="#000" textLength="22.5" lengthAdjust="spacingAndGlyphs"  stroke="#ffffff" stroke-width="0.3">=</text>
<text x="914.5" y="72.0" font-family="Liberation Sans, sans-serif" font-size="33.8px" text-anchor="start" fill="#000" textLength="20.1" lengthAdjust="spacingAndGlyphs"  stroke="#ffffff" stroke-width="0.3">B</text><text x="934.6" y="72.0" font-family="Liberation Sans, sans-serif" font-size="30.42px" text-anchor="start" fill="#000" textLength="78.4" lengthAdjust="spacingAndGlyphs"  stroke="#ffffff" stroke-width="0.3">uilding</text>
<text x="1021.0" y="72.0" font-family="Liberation Sans, sans-serif" font-size="33.8px" text-anchor="start" fill="#000" textLength="23.7" lengthAdjust="spacingAndGlyphs"  stroke="#ffffff" stroke-width="0.3">C</text><text x="1044.7" y="72.0" font-family="Liberation Sans, sans-serif" font-size="30.42px" text-anchor="start" fill="#000" textLength="106.8" lengthAdjust="spacingAndGlyphs"  stroke="#ffffff" stroke-width="0.3">overage</text><text x="1151.4" y="72.0" font-family="Liberation Sans, sans-serif" font-size="33.8px" text-anchor="start" fill="#000" textLength="10.9" lengthAdjust="spacingAndGlyphs"  stroke="#ffffff" stroke-width="0.3">)</text>
<path d="M621.64,17.39 L634.53,17.39 M634.53,17.39 Q633.29,27.17 621.18,30.74 M642.60,15.06 L642.60,33.38 M635.61,24.06 L642.60,24.06 M625.52,32.60 L625.52,39.12 L644.46,38.81 M654.71,15.52 L669.77,15.52 L669.77,20.96 L654.71,20.96 L654.71,15.52 L656.57,15.52 M650.05,26.08 L675.51,26.08 M662.78,26.08 L662.78,30.27 M654.24,30.74 L669.77,30.74 L669.77,34.46 L655.02,34.46 L655.02,39.12 L672.10,39.12 M690.72,17.85 L690.72,32.60 M699.57,17.85 L699.57,32.60 M690.72,24.06 L699.57,24.06 M690.72,32.29 L699.57,32.29 M705.16,15.06 L705.16,38.03 M711.68,13.97 L711.68,39.59 M705.16,25.61 L711.68,25.61 M724.10,17.85 L730.31,17.85 M719.13,22.98 L734.66,22.98 M727.21,22.98 Q726.12,30.27 719.13,34.46 M727.21,24.84 Q729.22,31.05 734.66,34.15 M739.31,15.06 L739.31,40.67 M769.12,17.85 L750.80,17.85 L750.80,27.17 L769.43,27.17 M759.81,27.17 L759.81,36.95 M746.61,36.95 L772.69,36.95 M784.18,29.96 L793.96,29.96 M810.13,17.99 L822.35,17.99 M816.59,17.99 Q815.72,27.07 809.61,33.18 M816.94,23.58 Q818.34,29.69 821.83,32.83 M820.61,25.32 L826.72,25.32 M826.72,16.07 L826.72,38.07 M831.96,15.19 L831.96,40.69 M861.12,16.94 L880.68,16.94 M870.73,16.94 Q868.98,22.70 859.38,24.45 M871.25,18.34 Q874.22,22.70 881.73,24.10 M870.73,24.45 L870.73,27.94 M858.16,27.94 L883.48,27.94 M861.65,35.80 a9.08,3.84 0 1,0 18.16,0 a9.08,3.84 0 1,0 -18.16,0 M888.89,21.83 a6.64,4.72 0 1,0 13.27,0 a6.64,4.72 0 1,0 -13.27,0 M908.80,15.19 L908.80,28.82 M892.04,31.09 L909.68,31.09 L909.68,34.93 L893.43,34.93 L893.43,39.29 L910.55,39.29 M918.23,16.94 L918.23,28.82 M928.71,16.94 L928.71,28.82 M918.23,21.83 L928.71,21.83 M918.23,28.47 L928.71,28.47 M936.74,13.97 L936.74,34.06 M936.74,24.97 L941.81,24.97 M920.85,32.31 L920.85,38.77 L938.84,38.77 M948.10,16.94 L967.66,16.94 M958.05,16.94 Q956.30,22.70 946.70,24.45 M958.57,18.34 Q961.54,22.70 968.53,24.10 M945.30,28.82 L970.80,28.82 M958.05,28.82 L958.05,40.69 M975.17,18.69 L988.61,18.69 M988.26,18.69 Q987.22,29.69 974.64,35.80 M996.12,15.19 L996.12,39.82 M988.61,26.20 L996.12,26.20 M1005.20,18.69 L1019.52,18.69 M1012.19,18.69 Q1011.32,27.94 1003.98,33.53 M1012.71,24.45 Q1014.81,30.04 1019.70,33.53 M1025.29,15.19 L1025.29,40.69 M1034.19,22.18 a6.46,5.24 0 1,0 12.92,0 a6.46,5.24 0 1,0 -12.92,0 M1054.45,15.19 L1054.45,28.82 M1047.99,19.56 L1054.45,19.56 M1047.99,25.67 L1054.45,25.67 M1036.64,32.31 L1054.98,32.31 L1054.98,39.82" fill="none" stroke="#000" stroke-width="1.9" stroke-linecap="butt" stroke-linejoin="miter"/><text x="837.8" y="37.5" font-family="Liberation Sans, sans-serif" font-size="30.5px" textLength="15.6" lengthAdjust="spacingAndGlyphs" fill="#000" stroke="#fff" stroke-width="0.5">3</text><path d="M356.17,223.41 L364.58,223.41 M364.58,223.41 Q363.93,229.88 355.52,232.46 M370.40,220.82 L370.40,234.40 M365.23,227.29 L370.40,227.29 M358.37,234.40 L358.37,239.32 L372.99,239.32 M379.46,224.06 L388.51,224.06 M378.55,234.40 L389.16,234.40 M381.66,224.06 L381.66,234.40 M386.31,224.06 L386.31,234.40 M388.51,227.29 L391.75,227.29 M388.51,231.17 L391.75,231.17 M391.75,221.47 L391.75,238.93 M396.02,220.82 L396.02,241.52 M404.29,223.80 a6.21,2.59 0 1,0 12.42,0 a6.21,2.59 0 1,0 -12.42,0 M400.80,230.27 L420.85,230.27 M407.92,230.27 L407.92,233.11 M413.74,230.27 L413.74,233.11 M404.29,233.37 L417.62,233.37 L417.62,235.96 L404.68,235.96 L404.68,238.93 L418.65,238.93" fill="none" stroke="#000" stroke-width="1.45" stroke-linecap="butt" stroke-linejoin="miter"/>
</svg>
</body></html>
